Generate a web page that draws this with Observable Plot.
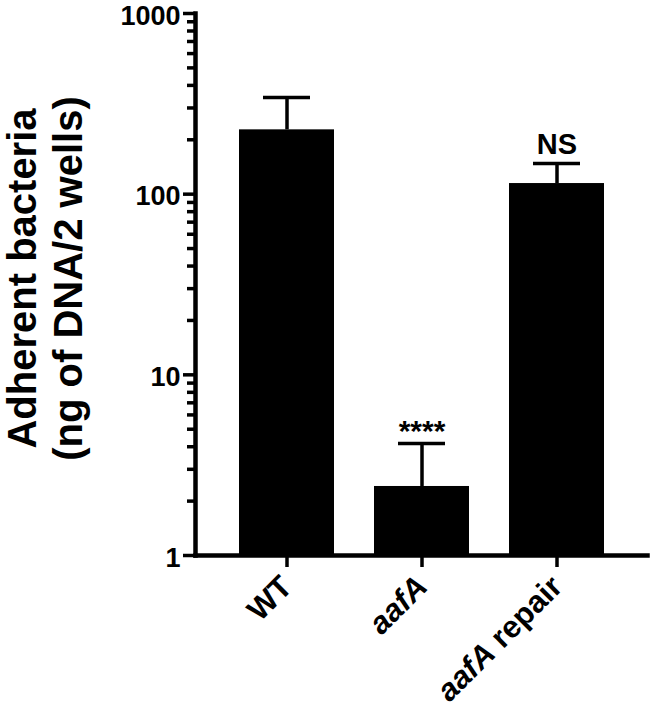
<!DOCTYPE html>
<html>
<head>
<meta charset="utf-8">
<script src="https://cdn.jsdelivr.net/npm/d3@7"></script>
<script src="https://cdn.jsdelivr.net/npm/@observablehq/plot@0.6"></script>
<style>
  html, body { margin: 0; padding: 0; background: white; }
</style>
</head>
<body>
<div id="chart"></div>
<script>
// ---- data ----
const categories = ["WT", "aafA", "aafA repair"];
const means = [227, 2.41, 114.5];
const upperErrors = [343, 4.17, 147.7];
const annotations = ["", "****", "NS"];
const yTicks = [1, 10, 100, 1000];
const yMinorTicks = [2, 3, 4, 5, 6, 7, 8, 9, 20, 30, 40, 50, 60, 70, 80, 90, 200, 300, 400, 500, 600, 700, 800, 900];
const yLabel = "Adherent bacteria\n(ng of DNA/2 wells)";

const data = categories.map((c, i) => ({name: c, mean: means[i], upper: upperErrors[i], label: annotations[i]}));

const chart = Plot.plot({
  width: 650,
  height: 712,
  marginLeft: 195,
  marginRight: 3,
  marginTop: 13,
  marginBottom: 157,
  style: {fontFamily: "'Liberation Sans', Arial, sans-serif", fontWeight: "bold", color: "black", background: "white", overflow: "visible"},
  x: {domain: categories, paddingInner: 0.3, paddingOuter: 0.317, label: null},
  y: {type: "log", domain: [1, 1000], label: null},
  marks: [
    Plot.barY(data, {x: "name", y1: () => 1, y2: "mean", fill: "black"}),
    Plot.ruleX(data, {x: "name", y1: "mean", y2: "upper", stroke: "black", strokeWidth: 3.5}),
    Plot.tickY(data, {x: "name", y: "upper", stroke: "black", strokeWidth: 3.5, inset: 24}),
    Plot.text(data.filter(d => d.label === "****"), {x: "name", y: "upper", text: "label", fontSize: 30, fontWeight: "bold", lineAnchor: "bottom", dy: -2}),
    Plot.text(data.filter(d => d.label === "NS"), {x: "name", y: "upper", text: "label", fontSize: 29, fontWeight: "bold", lineAnchor: "bottom", dy: -10}),
    // major tick lines
    Plot.axisY({ticks: yTicks, tickFormat: () => "", tickSize: 12, strokeWidth: 3.5}),
    // major tick labels (nudged down slightly, tick lines hidden)
    Plot.axisY({ticks: yTicks, tickFormat: d => String(d), tickSize: 12, tickPadding: 3, fontSize: 27, stroke: "none", dy: 2.5}),
    // minor ticks
    Plot.axisY({ticks: yMinorTicks, tickFormat: () => "", tickSize: 8, strokeWidth: 3.5}),
    Plot.axisX({tickRotate: -45, tickSize: 12, tickPadding: 14, fontSize: 31, strokeWidth: 3.5}),
    Plot.frame({anchor: "left", strokeWidth: 4.5}),
    Plot.frame({anchor: "bottom", strokeWidth: 4.5}),
    Plot.text([yLabel], {frameAnchor: "left", textAnchor: "middle", lineAnchor: "middle", rotate: -90, text: d => d, fontSize: 40, fontWeight: "bold", lineHeight: 1.15, dx: -151, dy: -6})
  ]
});

// italicize the gene name in the x tick labels
const ns = "http://www.w3.org/2000/svg";
chart.querySelectorAll('g[aria-label="x-axis tick label"] text').forEach(t => {
  const s = t.textContent;
  if (s.startsWith("aafA")) {
    t.textContent = "";
    const it = document.createElementNS(ns, "tspan");
    it.setAttribute("font-style", "italic");
    it.textContent = "aafA";
    t.appendChild(it);
    if (s.length > 4) t.appendChild(document.createTextNode(s.slice(4)));
  }
});

document.getElementById("chart").appendChild(chart);
</script>
</body>
</html>
